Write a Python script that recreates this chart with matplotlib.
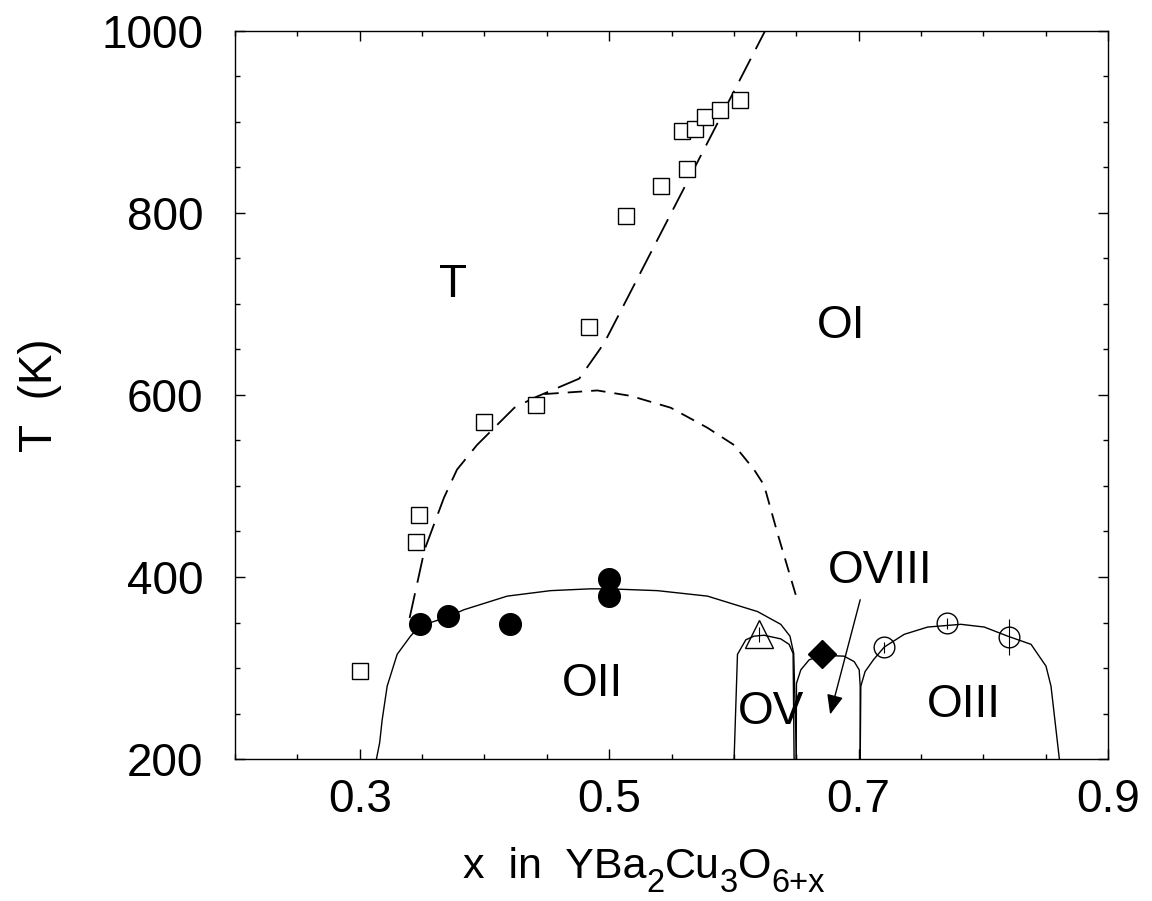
import matplotlib
matplotlib.use("Agg")
import matplotlib.pyplot as plt
from matplotlib.ticker import MultipleLocator, FixedLocator

plt.rcParams['font.family'] = ['Liberation Sans', 'DejaVu Sans']

# open squares (T -> OI transition)
sq_x = [0.300, 0.3453, 0.3474, 0.3995, 0.4416, 0.4838, 0.5138, 0.5416,
        0.5587, 0.5625, 0.5686, 0.577, 0.589, 0.605]
sq_T = [297, 439, 468, 570, 589, 675, 797, 830, 890, 848, 892, 905, 913, 924]

# filled circles (OII)
fc_x = [0.3482, 0.3704, 0.4204, 0.500, 0.500]
fc_T = [348, 357, 348, 398, 379]

# open triangle (OV)
tri_x = [0.6205]
tri_T = [337]
tri_err = [8]

# filled diamond (OVIII)
dia_x = [0.6708]
dia_T = [315]

# open circles (OIII)
oc_x = [0.7206, 0.7709, 0.8206]
oc_T = [323, 349, 334]
oc_err = [6, 6, 20]

# long dashed boundary T / OI
ld_x = [0.340, 0.352, 0.3675, 0.378, 0.394, 0.424, 0.440, 0.476, 0.496, 0.625]
ld_T = [355, 430, 487, 518, 545, 586, 597, 618, 657, 1000]

# short dashed dome
sd_x = [0.448, 0.4905, 0.5173, 0.5494, 0.5788, 0.6002, 0.6162, 0.6242, 0.635, 0.6497]
sd_T = [601, 605, 599, 586, 564, 545, 518, 501, 448, 380]

# solid domes
oii_x = [0.3134, 0.316, 0.318, 0.322, 0.330, 0.3407, 0.348, 0.3704, 0.3835, 0.4183,
         0.453, 0.485, 0.500, 0.5387, 0.5788, 0.619, 0.6376, 0.645, 0.648, 0.6502]
oii_T = [200, 218, 243, 280, 315, 335, 346, 356, 364, 379,
         385, 387, 387, 385, 379, 362, 348, 335, 316, 200]

ov_x = [0.6002, 0.6029, 0.6096, 0.6162, 0.6242, 0.6376, 0.6443, 0.6475, 0.6483]
ov_T = [200, 315, 331, 335, 336, 332, 326, 316, 200]

oviii_x = [0.650, 0.6502, 0.6537, 0.6604, 0.6708, 0.6884, 0.6965, 0.7005, 0.7013, 0.7013]
oviii_T = [200, 283, 298, 309, 314, 313, 307, 298, 280, 200]

oiii_x = [0.7013, 0.7018, 0.7052, 0.7119, 0.7206, 0.7366, 0.7554, 0.7821, 0.8008,
          0.8196, 0.8383, 0.8503, 0.8543, 0.861]
oiii_T = [200, 280, 296, 309, 323, 337, 345, 348, 345, 335, 326, 302, 280, 200]

# phase labels (x centre, baseline T)
phase_names = ['T', 'OI', 'OII', 'OV', 'OVIII', 'OIII']
phase_x = [0.3749, 0.6864, 0.4869, 0.630, 0.717, 0.7844]
phase_T = [708, 663, 269, 239, 393, 246]

# x axis label, split so the subscripts sit low like the original
xlab_parts = ['x  in  YBa', '2', 'Cu', '3', 'O', '6+x']
xlab_sub = [False, True, False, True, False, True]

fig = plt.figure(figsize=(11.52, 9.01), dpi=100)
ax = fig.add_axes([0.204, 0.1576, 0.7578, 0.808])

lw = 1.0
ax.plot(oii_x, oii_T, color='black', lw=lw)
ax.plot(ov_x, ov_T, color='black', lw=lw)
ax.plot(oviii_x, oviii_T, color='black', lw=lw)
ax.plot(oiii_x, oiii_T, color='black', lw=lw)
ax.plot(ld_x, ld_T, color='black', lw=1.3, dashes=(14, 6))
ax.plot(sd_x, sd_T, color='black', lw=1.3, dashes=(8, 5))

ax.plot(sq_x, sq_T, 's', ms=12.2, mfc='white', mec='black', mew=1.0)
ax.plot(fc_x, fc_T, 'o', ms=15.6, color='black')
ax.errorbar(tri_x, tri_T, yerr=tri_err, fmt='^', ms=20, mfc='none', mec='black',
            mew=1.0, ecolor='black', elinewidth=0.8, capsize=0)
ax.plot(dia_x, dia_T, 'D', ms=14.5, color='black')
ax.errorbar(oc_x, oc_T, yerr=oc_err, fmt='o', ms=14.9, mfc='none', mec='black',
            mew=1.0, ecolor='black', elinewidth=0.8, capsize=0)

ax.annotate('', xy=(0.6772, 249), xytext=(0.7013, 375),
            arrowprops=dict(arrowstyle='-|>,head_length=1.2,head_width=0.5',
                            color='black', lw=1.0, shrinkA=0, shrinkB=0))

for name, px, pt in zip(phase_names, phase_x, phase_T):
    ax.text(px, pt, name, fontsize=33, ha='center', va='baseline')

ax.set_xlim(0.2, 0.9)
ax.set_ylim(200, 1000)
ax.xaxis.set_major_locator(FixedLocator([0.3, 0.5, 0.7, 0.9]))
ax.xaxis.set_minor_locator(MultipleLocator(0.05))
ax.yaxis.set_major_locator(MultipleLocator(200))
ax.yaxis.set_minor_locator(MultipleLocator(50))
ax.tick_params(which='both', direction='in', top=True, right=True, width=1.0)
ax.tick_params(which='major', length=7.5)
ax.tick_params(which='minor', length=3.8)
ax.tick_params(axis='y', which='major', labelsize=33, pad=23)
ax.tick_params(axis='x', which='major', labelsize=33, pad=14)
for s in ax.spines.values():
    s.set_linewidth(1.0)

ax.set_ylabel('T  (K)', fontsize=33)
ax.yaxis.set_label_coords(-0.198, 0.5)

# x label pieces, placed in pixels (baseline 878 px from top, centre 644 px)
renderer = fig.canvas.get_renderer()
H = fig.bbox.height
pieces = []
for s, sub in zip(xlab_parts, xlab_sub):
    t = fig.text(0, 0, s, fontsize=23.5 if sub else 31, ha='left', va='baseline',
                 transform=None)
    pieces.append((t, sub))
widths = [t.get_window_extent(renderer).width for t, _ in pieces]
xpos = 644 - sum(widths) / 2
for (t, sub), w in zip(pieces, widths):
    t.set_position((xpos, H - (891.7 if sub else 878)))
    xpos += w

fig.savefig('out.png', dpi=100)
